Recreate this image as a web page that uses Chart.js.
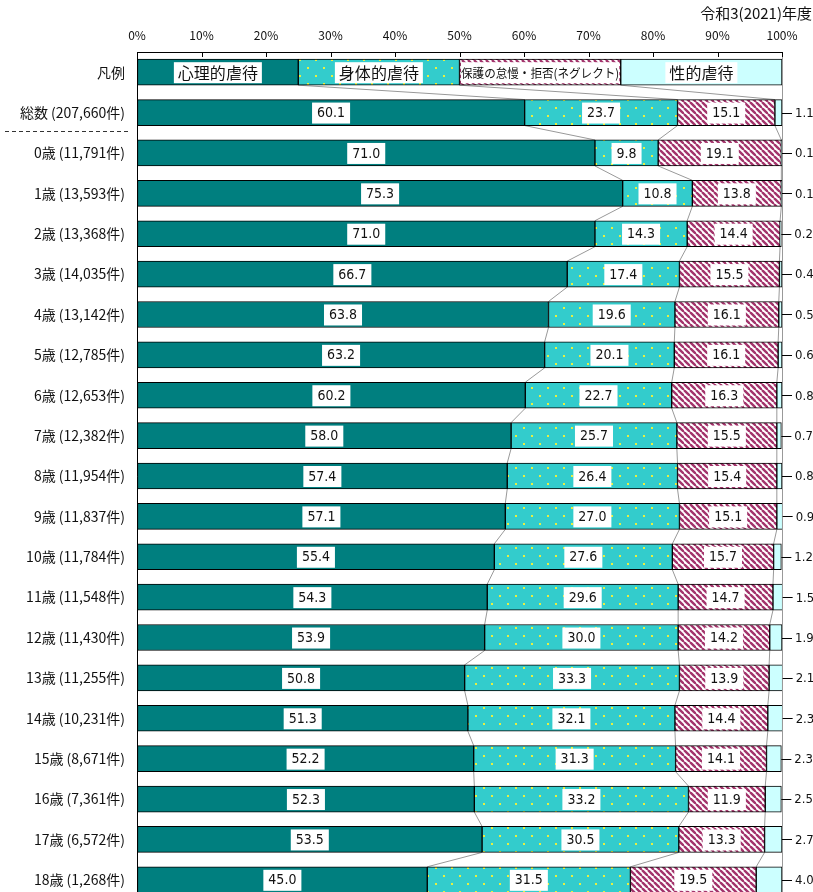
<!DOCTYPE html>
<html>
<head>
<meta charset="utf-8">
<script src="https://cdn.jsdelivr.net/npm/chart.js@4.4.1/dist/chart.umd.min.js"></script>
<style>
  html, body { margin: 0; padding: 0; background: #fff; overflow: hidden; }
  #wrap { width: 813px; height: 892px; overflow: hidden; position: relative; }
  canvas { display: block; }
</style>
</head>
<body>
<div id="wrap"><canvas id="chart" width="813" height="905"></canvas></div>
<script>
const categories = ['凡例', '総数 (207,660件)', '0歳 (11,791件)', '1歳 (13,593件)', '2歳 (13,368件)',
  '3歳 (14,035件)', '4歳 (13,142件)', '5歳 (12,785件)', '6歳 (12,653件)', '7歳 (12,382件)',
  '8歳 (11,954件)', '9歳 (11,837件)', '10歳 (11,784件)', '11歳 (11,548件)', '12歳 (11,430件)',
  '13歳 (11,255件)', '14歳 (10,231件)', '15歳 (8,671件)', '16歳 (7,361件)', '17歳 (6,572件)', '18歳 (1,268件)'];
const seriesNames = ['心理的虐待', '身体的虐待', '保護の怠慢・拒否(ネグレクト)', '性的虐待'];
// first value of each series is the legend row (25% each)
const psychological = [25, 60.1, 71.0, 75.3, 71.0, 66.7, 63.8, 63.2, 60.2, 58.0, 57.4, 57.1, 55.4, 54.3, 53.9, 50.8, 51.3, 52.2, 52.3, 53.5, 45.0];
const physical      = [25, 23.7, 9.8, 10.8, 14.3, 17.4, 19.6, 20.1, 22.7, 25.7, 26.4, 27.0, 27.6, 29.6, 30.0, 33.3, 32.1, 31.3, 33.2, 30.5, 31.5];
const neglect       = [25, 15.1, 19.1, 13.8, 14.4, 15.5, 16.1, 16.1, 16.3, 15.5, 15.4, 15.1, 15.7, 14.7, 14.2, 13.9, 14.4, 14.1, 11.9, 13.3, 19.5];
const sexual        = [25, 1.1, 0.1, 0.1, 0.2, 0.4, 0.5, 0.6, 0.8, 0.7, 0.8, 0.9, 1.2, 1.5, 1.9, 2.1, 2.3, 2.3, 2.5, 2.7, 4.0];
const xTicks = [0, 10, 20, 30, 40, 50, 60, 70, 80, 90, 100];
const title = '令和3(2021)年度';

const FONT = '"Noto Sans CJK JP", "Noto Sans", sans-serif';
const NUMFONT = '"DejaVu Sans", "Noto Sans", sans-serif';

function dotPattern() {
  const c = document.createElement('canvas');
  c.width = 16; c.height = 16;
  const g = c.getContext('2d');
  g.fillStyle = '#33CCCC';
  g.fillRect(0, 0, 16, 16);
  g.fillStyle = '#E8F040';
  g.fillRect(3, 3, 2, 2);
  g.fillRect(11, 11, 2, 2);
  return g.createPattern(c, 'repeat');
}

function stripePattern() {
  const s = 6;
  const c = document.createElement('canvas');
  c.width = s; c.height = s;
  const g = c.getContext('2d');
  g.fillStyle = '#ffffff';
  g.fillRect(0, 0, s, s);
  g.strokeStyle = '#A3336B';
  g.lineWidth = 2.4;
  [-s, 0, s].forEach(o => {
    g.beginPath();
    g.moveTo(o, 0);
    g.lineTo(o + s, s);
    g.stroke();
  });
  return g.createPattern(c, 'repeat');
}

const fills = ['#007F7F', dotPattern(), stripePattern(), '#CCFFFF'];

function noPad(s) {
  s.paddingTop = 0; s.paddingBottom = 0; s.paddingLeft = 0; s.paddingRight = 0;
}

const overlay = {
  id: 'overlay',
  beforeDatasetsDraw(chart) {
    const ctx = chart.ctx;
    const area = chart.chartArea;
    // 100% line
    ctx.save();
    ctx.strokeStyle = '#999';
    ctx.lineWidth = 1;
    const x100 = chart.scales.x.getPixelForValue(100);
    ctx.beginPath();
    ctx.moveTo(x100 + 0.5, area.top);
    ctx.lineTo(x100 + 0.5, area.bottom);
    ctx.stroke();
    // connecting lines between bars
    for (let d = 0; d < 3; d++) {
      const els = chart.getDatasetMeta(d).data;
      for (let i = 0; i < els.length - 1; i++) {
        const a = els[i], b = els[i + 1];
        ctx.beginPath();
        ctx.moveTo(a.x, a.y + a.height / 2);
        ctx.lineTo(b.x, b.y - b.height / 2);
        ctx.stroke();
      }
    }
    ctx.restore();
  },
  afterDatasetsDraw(chart) {
    const ctx = chart.ctx;
    const x = chart.scales.x;
    ctx.save();
    // inner ticks on top axis
    ctx.strokeStyle = '#000';
    ctx.lineWidth = 1;
    const top = chart.chartArea.top;
    xTicks.forEach(v => {
      const px = Math.round(x.getPixelForValue(v)) + 0.5;
      ctx.beginPath();
      ctx.moveTo(px, top);
      ctx.lineTo(px, top + 5);
      ctx.stroke();
    });
    // legend row labels
    ctx.textAlign = 'center';
    ctx.textBaseline = 'middle';
    for (let d = 0; d < 4; d++) {
      const el = chart.getDatasetMeta(d).data[0];
      const cx = (el.x + el.base) / 2;
      const size = d === 2 ? 12.5 : 16;
      ctx.font = size + 'px ' + FONT;
      const w = Math.min(ctx.measureText(seriesNames[d]).width + (d === 2 ? 2 : 8), el.x - el.base - 3);
      ctx.fillStyle = '#fff';
      ctx.fillRect(cx - w / 2, el.y - 10, w, 21);
      ctx.fillStyle = '#111';
      ctx.fillText(seriesNames[d], cx, el.y + 1, el.x - el.base - 3);
    }
    // value labels
    ctx.font = 'condensed 14px ' + NUMFONT;
    const series = [psychological, physical, neglect];
    for (let d = 0; d < 3; d++) {
      const els = chart.getDatasetMeta(d).data;
      for (let i = 1; i < els.length; i++) {
        const el = els[i];
        const txt = series[d][i].toFixed(1);
        const cx = (el.x + el.base) / 2;
        const w = ctx.measureText(txt).width + 10;
        ctx.fillStyle = '#fff';
        ctx.fillRect(cx - w / 2, el.y - 10, w, 21);
        ctx.fillStyle = '#111';
        ctx.fillText(txt, cx, el.y + 1);
      }
    }
    // outside labels for sexual abuse
    const els = chart.getDatasetMeta(3).data;
    ctx.textAlign = 'left';
    ctx.font = 'condensed 13px ' + NUMFONT;
    for (let i = 1; i < els.length; i++) {
      const el = els[i];
      const y = Math.round(el.y) + 0.5;
      ctx.strokeStyle = '#000';
      ctx.beginPath();
      ctx.moveTo(el.x, y);
      ctx.lineTo(el.x + 10, y);
      ctx.stroke();
      ctx.fillStyle = '#111';
      ctx.fillText(sexual[i].toFixed(1), el.x + 13, el.y + 1);
    }
    // dashed separator under total row
    ctx.strokeStyle = '#333';
    ctx.setLineDash([4, 3]);
    const e0 = chart.getDatasetMeta(0).data[1], e1 = chart.getDatasetMeta(0).data[2];
    const sy = Math.round((e0.y + e1.y) / 2) - 1.5;
    ctx.beginPath();
    ctx.moveTo(5, sy);
    ctx.lineTo(128, sy);
    ctx.stroke();
    ctx.setLineDash([]);
    // title
    ctx.textAlign = 'right';
    ctx.font = '15px ' + FONT;
    ctx.fillStyle = '#111';
    ctx.fillText(title, 812, 13);
    ctx.restore();
  }
};

new Chart(document.getElementById('chart'), {
  type: 'bar',
  data: {
    labels: categories,
    datasets: [psychological, physical, neglect, sexual].map((vals, i) => ({
      label: seriesNames[i],
      data: vals,
      backgroundColor: fills[i],
      borderColor: '#000',
      borderWidth: 1,
      borderSkipped: false,
      barThickness: 26
    }))
  },
  options: {
    indexAxis: 'y',
    responsive: false,
    animation: false,
    layout: { padding: { top: 0, right: 31, bottom: 5, left: 0 } },
    plugins: { legend: { display: false }, tooltip: { enabled: false }, title: { display: false } },
    scales: {
      x: {
        position: 'top',
        stacked: true,
        min: 0,
        max: 100,
        afterFit: s => { s.height = 52; noPad(s); },
        afterBuildTicks: s => { s.ticks = xTicks.map(v => ({ value: v })); },
        ticks: {
          padding: 9,
          color: '#111',
          font: { family: FONT, size: 12 },
          callback: v => v + '%'
        },
        grid: { drawOnChartArea: false, drawTicks: false },
        border: { display: true, color: '#000', width: 1 }
      },
      y: {
        stacked: true,
        afterFit: s => { s.width = 137; noPad(s); },
        ticks: {
          padding: 12,
          color: '#111',
          font: { family: FONT, size: 14 }
        },
        grid: { display: false, drawTicks: false },
        border: { display: true, color: '#000', width: 1 }
      }
    }
  },
  plugins: [overlay]
});
</script>
</body>
</html>
